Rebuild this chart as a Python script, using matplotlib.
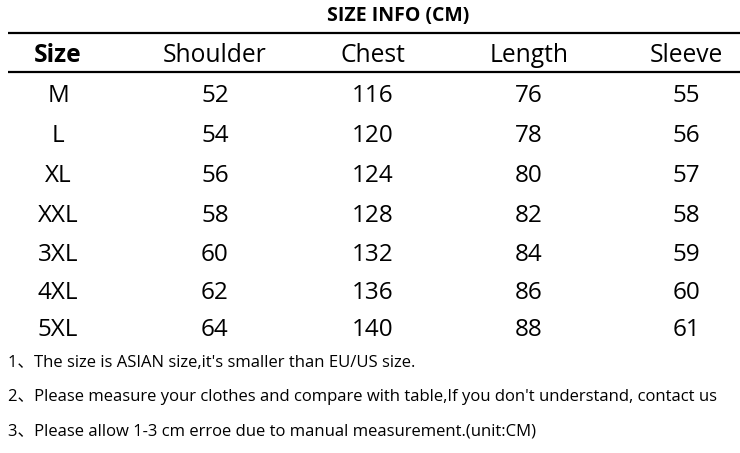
import matplotlib
matplotlib.use("Agg")
import matplotlib.pyplot as plt

title = "SIZE INFO (CM)"
columns = ["Size", "Shoulder", "Chest", "Length", "Sleeve"]
sizes = ["M", "L", "XL", "XXL", "3XL", "4XL", "5XL"]
shoulder = [52, 54, 56, 58, 60, 62, 64]
chest = [116, 120, 124, 128, 132, 136, 140]
length = [76, 78, 80, 82, 84, 86, 88]
sleeve = [55, 56, 57, 58, 59, 60, 61]
notes = [
    "1、The size is ASIAN size,it's smaller than EU/US size.",
    "2、Please measure your clothes and compare with table,If you don't understand, contact us",
    "3、Please allow 1-3 cm erroe due to manual measurement.(unit:CM)",
]

fam = ["Open Sans", "Noto Sans CJK SC", "DejaVu Sans"]
plt.rcParams["font.family"] = fam

W, H = 740, 453
fig = plt.figure(figsize=(W / 100, H / 100), dpi=100)
ax = fig.add_axes([0, 0, 1, 1])
ax.set_xlim(0, W)
ax.set_ylim(H, 0)
ax.axis("off")

col_x = [58, 215, 373, 529, 686]
row_y = [96, 136, 176, 216, 255, 293, 330]

ax.text(398, 16, title, ha="center", va="center", fontsize=14, fontweight="bold", color="black")
ax.plot([8, 740], [33, 33], color="black", lw=1.6, solid_capstyle="butt")
ax.plot([8, 740], [72, 72], color="black", lw=1.6, solid_capstyle="butt")

for i, c in enumerate(columns):
    ax.text(col_x[i], 56, c, ha="center", va="center", fontsize=17.7,
            fontweight="bold" if i == 0 else "normal", color="black")

for r in range(len(sizes)):
    vals = [sizes[r], shoulder[r], chest[r], length[r], sleeve[r]]
    for i, v in enumerate(vals):
        ax.text(col_x[i], row_y[r], str(v), ha="center", va="center", fontsize=17.5, color="black")

note_y = [363, 397, 432]
for y, n in zip(note_y, notes):
    ax.text(8, y, n, ha="left", va="center", fontsize=12, color="black")

fig.savefig("out.png", dpi=100, facecolor="white")
